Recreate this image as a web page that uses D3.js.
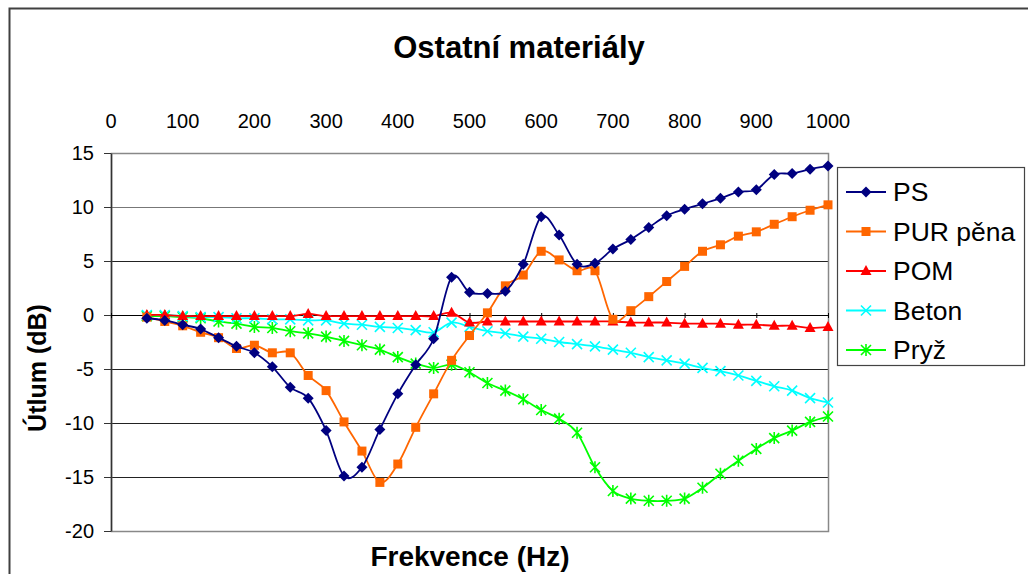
<!DOCTYPE html>
<html lang="cs">
<head>
<meta charset="UTF-8">
<title>Ostatní materiály</title>
<script src="https://d3js.org/d3.v7.min.js"></script>
<style>
  body { margin: 0; background: #fff; }
  svg { display: block; font-family: "Liberation Sans", Arial, sans-serif; }
</style>
</head>
<body>
<script>
// frequencies (Hz) – one point every 25 Hz
const freqs = d3.range(50, 1001, 25);

const psValues = [-0.3, -0.5, -0.9, -1.3, -2.1, -2.9, -3.5, -4.8, -6.7, -7.7, -10.7, -14.9,
  -14.1, -10.6, -7.3, -4.6, -2.2, 3.5, 2.1, 2.0, 2.2, 4.7, 9.1, 7.4, 4.7, 4.8, 6.1, 7.0,
  8.1, 9.2, 9.8, 10.3, 10.8, 11.4, 11.6, 13.0, 13.1, 13.5, 13.8];
const purValues = [-0.2, -0.6, -1.0, -1.6, -2.1, -3.1, -2.8, -3.5, -3.5, -5.6, -7.0, -9.9,
  -12.6, -15.5, -13.8, -10.4, -7.3, -4.2, -1.9, 0.2, 2.7, 3.7, 5.9, 5.1, 4.1, 4.1, -0.4, 0.4,
  1.7, 3.1, 4.5, 5.9, 6.5, 7.3, 7.7, 8.4, 9.1, 9.7, 10.2];
const pomValues = [0.0, 0.0, -0.1, -0.1, -0.1, -0.1, -0.1, -0.1, -0.1, 0.1, -0.1, -0.1,
  -0.1, -0.1, -0.1, -0.1, -0.1, 0.2, -0.7, -0.6, -0.6, -0.6, -0.6, -0.6, -0.6, -0.6, -0.6, -0.7,
  -0.7, -0.7, -0.8, -0.8, -0.8, -0.9, -0.9, -1.0, -1.0, -1.2, -1.1];
const betonValues = [0.0, 0.0, -0.1, -0.2, -0.2, -0.3, -0.3, -0.4, -0.4, -0.5, -0.5, -0.8,
  -0.9, -1.1, -1.2, -1.4, -1.6, -0.7, -1.1, -1.5, -1.7, -2.0, -2.2, -2.5, -2.7, -2.9, -3.2, -3.5,
  -3.9, -4.2, -4.5, -4.9, -5.2, -5.6, -6.1, -6.6, -7.0, -7.7, -8.1];
const pryzValues = [-0.1, -0.1, -0.2, -0.3, -0.6, -0.8, -1.1, -1.2, -1.5, -1.7, -2.0, -2.4,
  -2.8, -3.2, -3.9, -4.5, -4.9, -4.6, -5.3, -6.3, -7.0, -7.8, -8.8, -9.6, -10.9, -14.1, -16.3, -17.0,
  -17.2, -17.2, -17.0, -16.0, -14.7, -13.5, -12.4, -11.4, -10.7, -9.9, -9.4];

const seriesNames = ["PS", "PUR pěna", "POM", "Beton", "Pryž"];
const seriesColors = ["#000080", "#FF6600", "#FF0000", "#00FFFF", "#00FF00"];
const seriesMarkers = ["diamond", "square", "triangle", "x", "star"];
const seriesValues = [psValues, purValues, pomValues, betonValues, pryzValues];

const xTicks = d3.range(0, 1001, 100);
const yTicks = d3.range(-20, 16, 5);

const width = 1028, height = 574;
const plot = { left: 111, right: 828, top: 153, bottom: 531 };

const svg = d3.select("body").append("svg")
  .attr("width", width)
  .attr("height", height);

const x = d3.scaleLinear().domain([0, 1000]).range([plot.left, plot.right]);
const y = d3.scaleLinear().domain([-20, 15]).range([plot.bottom, plot.top]);

// chart area border (only left/top visible in the picture)
svg.append("path")
  .attr("d", `M9.5,${height} V8.5 H${width}`)
  .attr("fill", "none")
  .attr("stroke", "#404040")
  .attr("stroke-width", 2);

// title
svg.append("text")
  .attr("x", 519).attr("y", 58)
  .attr("text-anchor", "middle")
  .attr("font-size", 31).attr("font-weight", "bold")
  .text("Ostatní materiály");

// gridlines
svg.append("g").selectAll("line")
  .data(yTicks.filter(v => v > -20))
  .join("line")
  .attr("x1", plot.left).attr("x2", plot.right)
  .attr("y1", d => y(d) + 0.5).attr("y2", d => y(d) + 0.5)
  .attr("stroke", d => d >= 10 ? "#777" : "#222")
  .attr("stroke-width", 1);

// plot border
svg.append("rect")
  .attr("x", plot.left + 0.5).attr("y", plot.top + 0.5)
  .attr("width", plot.right - plot.left).attr("height", plot.bottom - plot.top)
  .attr("fill", "none").attr("stroke", "#888").attr("stroke-width", 1.5);

// y axis
const yAxis = svg.append("g")
  .attr("transform", `translate(${plot.left},0)`)
  .call(d3.axisLeft(y).tickValues(yTicks).tickSize(7).tickPadding(10).tickSizeOuter(0)
    .tickFormat(d => String(d)));
yAxis.select(".domain").attr("stroke", "#333").attr("stroke-width", 1.5);
yAxis.selectAll(".tick line").attr("stroke", "#333");
yAxis.selectAll("text").attr("font-size", 20).attr("fill", "#000")
  .attr("font-family", "'Liberation Sans', Arial, sans-serif");

// x axis line at 0 with small ticks
const xAxisLine = svg.append("g")
  .attr("transform", `translate(0,${y(0)})`)
  .call(d3.axisBottom(x).tickValues(xTicks).tickSize(5).tickFormat("").tickSizeOuter(0));
xAxisLine.select(".domain").attr("stroke", "#000");
xAxisLine.selectAll(".tick line").attr("stroke", "#000").attr("transform", "translate(0,-2)");

// x tick labels along the top
svg.append("g").selectAll("text")
  .data(xTicks)
  .join("text")
  .attr("x", d => x(d)).attr("y", 128)
  .attr("text-anchor", "middle")
  .attr("font-size", 20)
  .text(d => d);

// axis titles
svg.append("text")
  .attr("x", 470).attr("y", 566)
  .attr("text-anchor", "middle")
  .attr("font-size", 28).attr("font-weight", "bold")
  .text("Frekvence (Hz)");

svg.append("text")
  .attr("transform", "translate(46,368) rotate(-90)")
  .attr("text-anchor", "middle")
  .attr("font-size", 25).attr("font-weight", "bold")
  .text("Útlum (dB)");

// markers
function drawMarker(sel, type, color) {
  if (type === "diamond") {
    sel.append("path").attr("d", "M0,-5.5 L5.5,0 L0,5.5 L-5.5,0 Z").attr("fill", color);
  } else if (type === "square") {
    sel.append("rect").attr("x", -4.5).attr("y", -4.5).attr("width", 9).attr("height", 9).attr("fill", color);
  } else if (type === "triangle") {
    sel.append("path").attr("d", "M0,-6 L5.5,4 L-5.5,4 Z").attr("fill", color);
  } else if (type === "x") {
    sel.append("path").attr("d", "M-5,-5 L5,5 M-5,5 L5,-5")
      .attr("stroke", color).attr("stroke-width", 1.6).attr("fill", "none");
  } else if (type === "star") {
    sel.append("path").attr("d", "M-5,-5 L5,5 M-5,5 L5,-5 M0,-6 V6")
      .attr("stroke", color).attr("stroke-width", 1.6).attr("fill", "none");
  }
}

const line = d3.line()
  .x(d => x(d.f))
  .y(d => y(d.v))
  .curve(d3.curveCardinal.tension(0));

const drawOrder = [4, 3, 2, 1, 0];
drawOrder.forEach(i => {
  const data = freqs.map((f, j) => ({ f, v: seriesValues[i][j] }));
  const g = svg.append("g");
  g.append("path")
    .datum(data)
    .attr("d", line)
    .attr("fill", "none")
    .attr("stroke", seriesColors[i])
    .attr("stroke-width", 1.8);
  g.selectAll("g.m")
    .data(data)
    .join("g")
    .attr("class", "m")
    .attr("transform", d => `translate(${x(d.f)},${y(d.v)})`)
    .each(function () { drawMarker(d3.select(this), seriesMarkers[i], seriesColors[i]); });
});

// legend
const legend = svg.append("g");
legend.append("rect")
  .attr("x", 837.5).attr("y", 167.5)
  .attr("width", 187).attr("height", 198)
  .attr("fill", "#fff").attr("stroke", "#444").attr("stroke-width", 1.2);

seriesNames.forEach((name, i) => {
  const ly = 192 + i * 39.5;
  const item = legend.append("g");
  item.append("line")
    .attr("x1", 846).attr("x2", 886)
    .attr("y1", ly).attr("y2", ly)
    .attr("stroke", seriesColors[i]).attr("stroke-width", 1.8);
  const m = item.append("g").attr("transform", `translate(866,${ly})`);
  drawMarker(m, seriesMarkers[i], seriesColors[i]);
  item.append("text")
    .attr("x", 893).attr("y", ly + 9)
    .attr("font-size", 26.5)
    .text(name);
});
</script>
</body>
</html>
